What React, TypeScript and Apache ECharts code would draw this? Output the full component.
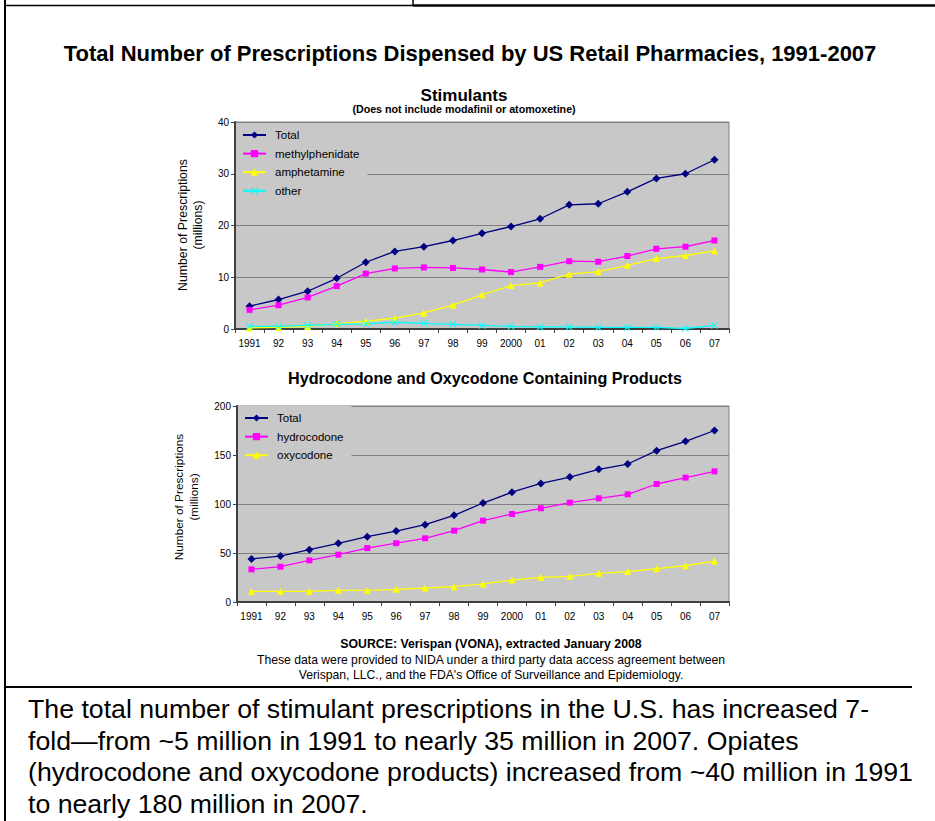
import React, { useEffect, useRef } from "react";
import * as echarts from "echarts";

const years = ["1991", "92", "93", "94", "95", "96", "97", "98", "99", "2000", "01", "02", "03", "04", "05", "06", "07"];

const stimTotal = [4.4, 5.7, 7.3, 9.8, 12.9, 15.0, 15.9, 17.1, 18.5, 19.8, 21.3, 24.0, 24.2, 26.5, 29.1, 30.0, 32.7];
const methylphenidate = [3.7, 4.6, 6.1, 8.3, 10.7, 11.7, 11.9, 11.8, 11.5, 11.0, 12.0, 13.1, 13.0, 14.1, 15.5, 15.9, 17.1];
const amphetamine = [0.2, 0.3, 0.5, 1.0, 1.5, 2.1, 3.1, 4.6, 6.6, 8.4, 8.9, 10.6, 11.1, 12.3, 13.6, 14.2, 15.1];
const otherStim = [0.5, 0.5, 0.7, 0.9, 1.0, 1.3, 1.1, 0.9, 0.7, 0.5, 0.4, 0.4, 0.3, 0.3, 0.3, 0.1, 0.7];

const opTotal = [43.9, 46.9, 53.4, 59.9, 66.7, 72.4, 78.9, 88.4, 101, 112, 121, 127.5, 135.4, 140.8, 154.4, 164, 175];
const hydrocodone = [33.3, 36, 42.5, 48.3, 55, 60, 65, 72.8, 83, 89.8, 95.6, 101.4, 105.8, 109.9, 120.4, 126.9, 133.3];
const oxycodone = [10.9, 10.9, 10.9, 11.9, 11.9, 12.9, 14.3, 15.6, 18.4, 22.4, 25.2, 26.2, 29.3, 31, 34, 37, 41.8];

const stimYTicks = { min: 0, max: 40, interval: 10 };
const opYTicks = { min: 0, max: 200, interval: 50 };

const mainTitle = "Total Number of Prescriptions Dispensed by US Retail Pharmacies, 1991-2007";
const stimTitle = "Stimulants";
const stimSubtitle = "(Does not include modafinil or atomoxetine)";
const opTitle = "Hydrocodone and Oxycodone Containing Products";
const yName = "Number of Prescriptions\n(millions)";
const sourceLines = [
  "SOURCE: Verispan (VONA), extracted January 2008",
  "These data were provided to NIDA under a third party data access agreement between",
  "Verispan, LLC., and the FDA's Office of Surveillance and Epidemiology.",
];
const bodyLines = [
  "The total number of stimulant prescriptions in the U.S. has increased 7-",
  "fold\u2014from ~5 million in 1991 to nearly 35 million in 2007. Opiates",
  "(hydrocodone and oxycodone products) increased from ~40 million in 1991",
  "to nearly 180 million in 2007.",
];

const FF = '"Liberation Sans", Arial, sans-serif';
const PLOT_BG = "#c8c8c8";
const XSYM = "path://M0,1L1,0L5,4L9,0L10,1L6,5L10,9L9,10L5,6L1,10L0,9L4,5Z";

function lineSeries(name: string, data: number[], color: string, symbol: string, size: number, idx: number) {
  return {
    type: "line",
    name,
    data,
    xAxisIndex: idx,
    yAxisIndex: idx,
    symbol,
    symbolSize: size,
    showSymbol: true,
    lineStyle: { color, width: 1.3 },
    itemStyle: { color, borderWidth: 0 },
    emphasis: { disabled: true },
  };
}

function xAxisCfg(idx: number) {
  return {
    type: "category",
    gridIndex: idx,
    data: years,
    boundaryGap: true,
    axisLine: { show: true, lineStyle: { color: "#404040", width: 2 } },
    axisTick: { show: true, length: 4, lineStyle: { color: "#404040" } },
    axisLabel: { fontSize: 10, color: "#000", margin: 9, interval: 0, fontFamily: FF },
    splitLine: { show: false },
  };
}

function yAxisCfg(idx: number, t: { min: number; max: number; interval: number }) {
  return {
    type: "value",
    gridIndex: idx,
    min: t.min,
    max: t.max,
    interval: t.interval,
    axisLine: { show: true, lineStyle: { color: "#404040", width: 2 } },
    axisTick: { show: true, length: 4, lineStyle: { color: "#404040" } },
    axisLabel: { fontSize: 10, color: "#000", margin: 6, fontFamily: FF },
    splitLine: { show: true, lineStyle: { color: "#808080", width: 1 } },
  };
}

function legendCfg(names: string[], left: number, top: number) {
  return {
    data: names,
    orient: "vertical",
    left,
    top,
    padding: [6, 8, 6, 6],
    backgroundColor: PLOT_BG,
    itemWidth: 23,
    itemHeight: 9,
    itemGap: 6.6,
    selectedMode: false,
    textStyle: { fontSize: 11.5, color: "#000", fontFamily: FF, lineHeight: 12, padding: [0, 0, 0, 4] },
  };
}

function txt(text: string, x: number, y: number, font: string, align = "center", extra: any = {}) {
  return {
    type: "text",
    x,
    y,
    silent: true,
    ...extra,
    style: { text, font, fill: "#000", align, verticalAlign: "middle", ...(extra.style || {}) },
  };
}

function ln(x1: number, y1: number, x2: number, y2: number, w: number) {
  return { type: "line", silent: true, shape: { x1, y1, x2, y2 }, style: { stroke: "#000", lineWidth: w } };
}

export default function App() {
  const ref = useRef<HTMLDivElement>(null);
  useEffect(() => {
    if (!ref.current) return;
    const chart = echarts.init(ref.current, null, { renderer: "svg" });
    const option: any = {
      animation: false,
      backgroundColor: "#fff",
      grid: [
        { left: 235, top: 122, width: 494, height: 207, show: true, backgroundColor: PLOT_BG, borderColor: "#808080", borderWidth: 1 },
        { left: 237, top: 406, width: 492, height: 196, show: true, backgroundColor: PLOT_BG, borderColor: "#808080", borderWidth: 1 },
      ],
      xAxis: [xAxisCfg(0), xAxisCfg(1)],
      yAxis: [yAxisCfg(0, stimYTicks), yAxisCfg(1, opYTicks)],
      legend: [
        legendCfg(["Total", "methylphenidate", "amphetamine", "other"], 236, 123),
        legendCfg(["Total", "hydrocodone", "oxycodone"], 238, 406),
      ],
      series: [
        lineSeries("Total", stimTotal, "#000080", "diamond", 8, 0),
        lineSeries("methylphenidate", methylphenidate, "#ff00ff", "rect", 6, 0),
        lineSeries("amphetamine", amphetamine, "#ffff00", "triangle", 7, 0),
        lineSeries("other", otherStim, "#00ffff", XSYM, 7, 0),
        lineSeries("Total", opTotal, "#000080", "diamond", 8, 1),
        lineSeries("hydrocodone", hydrocodone, "#ff00ff", "rect", 6, 1),
        lineSeries("oxycodone", oxycodone, "#ffff00", "triangle", 7, 1),
      ],
      graphic: [
        ln(5, 0, 5, 821, 2),
        ln(5, 5.5, 413, 5.5, 1.5),
        ln(413, 5.5, 935, 5.5, 2.5),
        ln(413, 0, 413, 5.5, 1.5),
        ln(5, 687, 912, 687, 2),
        txt(mainTitle, 470, 53, `bold 22px ${FF}`),
        txt(stimTitle, 464, 95, `bold 17px ${FF}`),
        txt(stimSubtitle, 464, 109, `bold 10.7px ${FF}`),
        txt(opTitle, 485, 378, `bold 16.2px ${FF}`),
        txt(yName, 190, 225, `12.3px ${FF}`, "center", { rotation: Math.PI / 2, style: { lineHeight: 15 } }),
        txt(yName, 186, 497, `11.8px ${FF}`, "center", { rotation: Math.PI / 2, style: { lineHeight: 15 } }),
        txt(sourceLines[0], 491, 644, `bold 12.3px ${FF}`),
        txt(sourceLines[1], 491, 660, `12.2px ${FF}`),
        txt(sourceLines[2], 491, 675, `12.2px ${FF}`),
        ...bodyLines.map((l, i) => txt(l, 28, 709 + i * 31.5, `26.7px ${FF}`, "left")),
      ],
    };
    chart.setOption(option);
    return () => chart.dispose();
  }, []);
  return (
    <div
      ref={ref}
      style={{ position: "absolute", left: 0, top: 0, width: 935, height: 821, background: "#fff" }}
    />
  );
}
